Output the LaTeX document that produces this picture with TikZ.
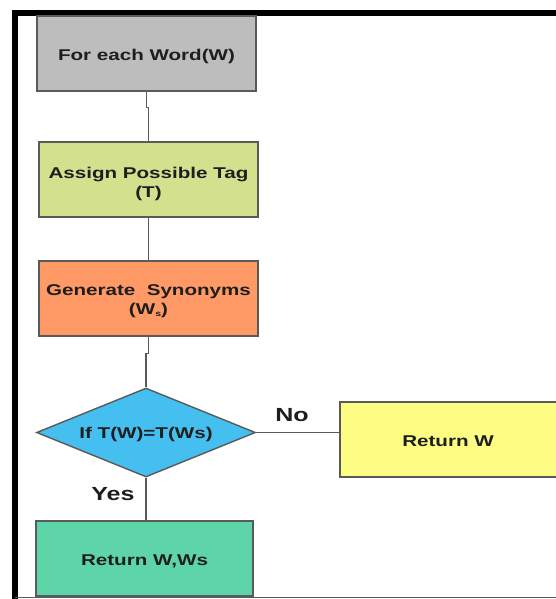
\documentclass[tikz,border=0pt]{standalone}
\usepackage{fontspec}
\setmainfont{Liberation Sans}[FakeStretch=1.32]
\usetikzlibrary{shapes.geometric}
\definecolor{boxgray}{HTML}{BDBDBD}
\definecolor{boxgreen}{HTML}{D3E08D}
\definecolor{boxorange}{HTML}{FF9966}
\definecolor{boxblue}{HTML}{45BEF0}
\definecolor{boxyellow}{HTML}{FCFD82}
\definecolor{boxteal}{HTML}{5ED5A9}
\definecolor{edgegray}{HTML}{5A5A5A}
\definecolor{ink}{HTML}{1E1E1E}
\tikzset{
  flowbox/.style={draw=edgegray, line width=1.4pt, rectangle, minimum width=219pt,
    minimum height=75pt, inner sep=0pt},
  decision/.style={draw=edgegray, line width=1.4pt, diamond, shape aspect=2.46,
    minimum width=219pt, minimum height=89pt, inner sep=0pt, fill=boxblue},
  boxtext/.style={inner sep=0pt, align=center, text=ink,
    font=\fontsize{15.6}{19}\selectfont\bfseries},
  link/.style={draw=edgegray, line width=1.5pt},
  branch/.style={text=ink, inner sep=0pt, font=\fontsize{19}{22}\selectfont\bfseries},
  frame/.style={draw=black, line width=6pt},
}
\begin{document}
\begin{tikzpicture}[x=1pt, y=-1pt]
\useasboundingbox (0,0) rectangle (555,599);
\fill[white] (0,0) rectangle (555,599);

% outer frame
\draw[frame] (15,599) -- (15,13) -- (560,13);
\draw[edgegray, line width=1.2pt] (15,597.5) -- (560,597.5);

% process steps
\node[flowbox, fill=boxgray] (word) at (146.5,53.5) {};
\node[flowbox, fill=boxgreen] (tag) at (148.5,179.5) {};
\node[flowbox, fill=boxorange] (syn) at (148.5,298.5) {};
\node[decision] (test) at (146,432.5) {};
\node[flowbox, fill=boxyellow, minimum width=220pt] (retw) at (450,439.5) {};
\node[flowbox, fill=boxteal, minimum width=217pt] (retws) at (144.5,558.5) {};

% step texts, set slightly below the box centres
\node[boxtext] (wordtxt) at ([yshift=-2.5pt]word.center) {For each Word(W)};
\node[boxtext] (tagtxt) at ([yshift=-4pt]tag.center) {Assign Possible Tag\\(T)};
\node[boxtext] (syntxt) at ([yshift=-3pt]syn.center)
  {Generate~~Synonyms\\(W\raisebox{-0.25ex}{\fontsize{8}{8}\selectfont s})};
\node[boxtext] (testtxt) at ([yshift=-2pt]test.center) {If T(W)=T(Ws)};
\node[boxtext] (retwtxt) at (448,441.5) {Return W};
\node[boxtext] (retwstxt) at ([yshift=-3pt]retws.center) {Return W,Ws};

% connectors
\draw[link] (word.south) -- ++(0,16) -| (tag.north);
\draw[link] (tag.south) -- (syn.north);
\draw[link] (syn.south) -- ++(0,17) -| (test.north);
\draw[link] (test.east) -- (test.east -| retw.west);
\draw[link] (test.south) -- (test.south |- retws.north);

% branch labels
\node[branch] (no) at (292,415) {No};
\node[branch] (yes) at (113,494) {Yes};
\end{tikzpicture}
\end{document}
